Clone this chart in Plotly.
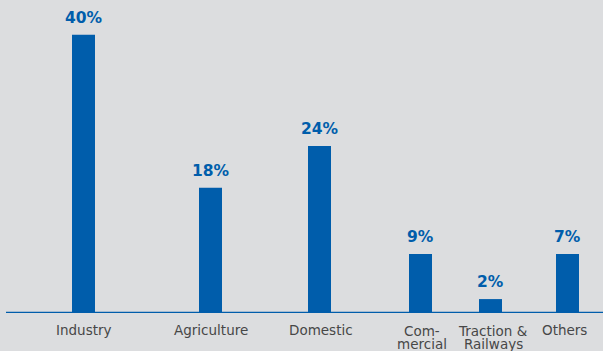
import plotly.graph_objects as go

categories = ["Industry", "Agriculture", "Domestic", "Com-\nmercial", "Traction &\nRailways", "Others"]
values = [40, 18, 24, 8.5, 2, 8.5]          # bar heights as drawn
value_labels = ["40%", "18%", "24%", "9%", "2%", "7%"]
x_pos = [83.5, 210.5, 319.5, 420.5, 490.5, 567.5]
label_x = [83.5, 210.5, 321, 422, 493, 564]

BLUE = "#005dab"
BG = "#dcdddf"
GRAY = "#474747"
FONT = "DejaVu Sans"

fig = go.Figure()
fig.add_trace(go.Bar(x=x_pos, y=values, width=23, marker=dict(color=BLUE, line=dict(width=0)),
                     hoverinfo="skip"))

annotations = []
for xp, v, t in zip(x_pos, values, value_labels):
    annotations.append(dict(x=xp, y=v, xref="x", yref="y", text=f"<b>{t}</b>", showarrow=False,
                            yanchor="bottom", yshift=6,
                            font=dict(family=FONT, size=15.5, color=BLUE)))
for lx, c in zip(label_x, categories):
    lines = c.split("\n")
    for i, ln in enumerate(lines):
        extra = 1 if len(lines) > 1 else 0
        annotations.append(dict(x=lx, y=0, xref="x", yref="y", text=ln, showarrow=False,
                                yanchor="top", yshift=-(7 + extra + i * 12.5),
                                font=dict(family=FONT, size=13.5, color=GRAY)))

fig.update_layout(
    width=603, height=351,
    margin=dict(l=0, r=0, t=0, b=38),
    paper_bgcolor=BG, plot_bgcolor=BG,
    showlegend=False,
    xaxis=dict(range=[0, 603], visible=False, fixedrange=True),
    yaxis=dict(range=[0, 45], visible=False, fixedrange=True),
    annotations=annotations,
    shapes=[dict(type="line", xref="x", yref="y", x0=6, x1=603, y0=0, y1=0,
                 line=dict(color=BLUE, width=2.5))],
)

fig.write_html("out.html", config={"displayModeBar": False})
